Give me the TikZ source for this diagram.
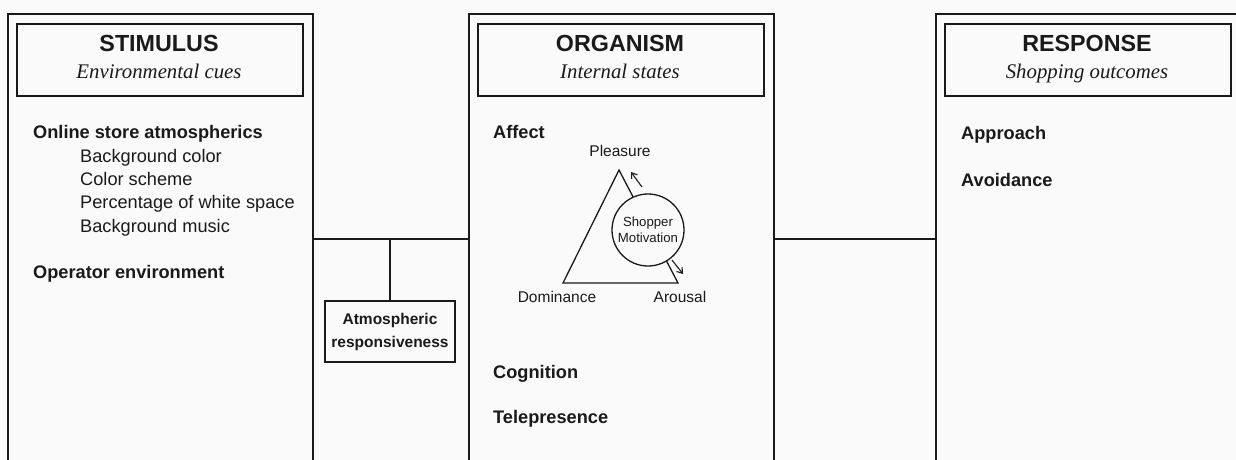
\documentclass[tikz,border=0pt]{standalone}
\usepackage{fontspec}
\setmainfont{Liberation Sans}
\newfontfamily\subfont{Liberation Serif}
\usetikzlibrary{arrows.meta}
\definecolor{ink}{HTML}{1A1A1A}
\definecolor{paper}{HTML}{FAFAFA}
\begin{document}
\begin{tikzpicture}[x=1pt,y=-1pt,
  panel/.style={draw=ink,line width=2pt,minimum width=305pt,minimum height=450pt,inner sep=0pt,anchor=north west},
  header/.style={draw=ink,line width=2pt,minimum width=286pt,minimum height=72pt,inner sep=0pt,anchor=north west},
  ttl/.style={font=\fontsize{23.3}{23}\selectfont\bfseries,text=ink,anchor=base},
  sub/.style={font=\fontsize{20.8}{20}\subfont\itshape,text=ink,anchor=base},
  head/.style={font=\fontsize{18.2}{18}\selectfont\bfseries,text=ink,anchor=base west,inner sep=0pt},
  item/.style={font=\fontsize{18.2}{18}\selectfont,text=ink,anchor=base west,inner sep=0pt},
  pole/.style={font=\fontsize{15.5}{15.5}\selectfont,text=ink,anchor=base,inner sep=0pt},
  tip/.style={-{Straight Barb[length=5pt,width=7pt]},line width=1.1pt,draw=ink}]
\fill[paper] (0,0) rectangle (1236,460);
\clip (0,0) rectangle (1236,460);

% three panels, open at the bottom of the page
\node[panel] (stim) at (7,13) {};
\node[panel] (org) at (468,13) {};
\node[panel] (resp) at (935,13) {};

% panel headers
\node[header] (stimh) at (16,23) {};
\node[header] (orgh) at (477,23) {};
\node[header] (resph) at (944,23) {};
\node[ttl] (stimt) at (159,52) {STIMULUS};
\node[sub] (stims) at (159,78) {Environmental cues};
\node[ttl] (orgt) at (620,52) {ORGANISM};
\node[sub] (orgs) at (620,78) {Internal states};
\node[ttl] (respt) at (1087,52) {RESPONSE};
\node[sub] (resps) at (1087,78) {Shopping outcomes};

% stimulus contents
\node[head] (osa) at (33,138) {Online store atmospherics};
\node[item] (bgc) at (80,162) {Background color};
\node[item] (csc) at (80,185) {Color scheme};
\node[item] (pws) at (80,208) {Percentage of white space};
\node[item] (bgm) at (80,232) {Background music};
\node[head] (ope) at (33,278) {Operator environment};

% organism contents
\node[head] (aff) at (493,138) {Affect};
\node[head] (cog) at (493,378) {Cognition};
\node[head] (tel) at (493,423) {Telepresence};

% PAD triangle with shopper motivation
\coordinate (tp) at (619,170);
\coordinate (tl) at (563,283);
\coordinate (tr) at (678,283);
\draw[ink,line width=1.3pt,line join=miter] (tp) -- (tl) -- (tr) -- cycle;
\node[circle,draw=ink,fill=paper,line width=1.3pt,minimum size=72pt,inner sep=0pt,
      align=center,font=\fontsize{13.2}{16}\selectfont,text=ink] (mot) at (648,230) {Shopper\\Motivation};
\coordinate (u0) at (642,187);
\coordinate (u1) at (631,172);
\coordinate (d0) at (672,260);
\coordinate (d1) at (683,274);
\draw[tip] (u0) -- (u1);
\draw[tip] (d0) -- (d1);
\node[pole] (ple) at (620,156) {Pleasure};
\node[pole] (dom) at (557,302) {Dominance};
\node[pole] (aro) at (680,302) {Arousal};

% response contents
\node[head] (app) at (961,139) {Approach};
\node[head] (avo) at (961,186) {Avoidance};

% moderator
\node[draw=ink,line width=2pt,minimum width=130pt,minimum height=61pt,inner sep=0pt,align=center,
      font=\fontsize{15.5}{23}\selectfont\bfseries,text=ink,anchor=north] (atm) at (390,300)
      {Atmospheric\\responsiveness};

% connectors
\draw[ink,line width=2pt] (stim.east) -- (org.west);
\draw[ink,line width=2pt] (org.east) -- (resp.west);
\draw[ink,line width=2pt] (atm.north) -- (atm.north |- stim.east);
\end{tikzpicture}
\end{document}
